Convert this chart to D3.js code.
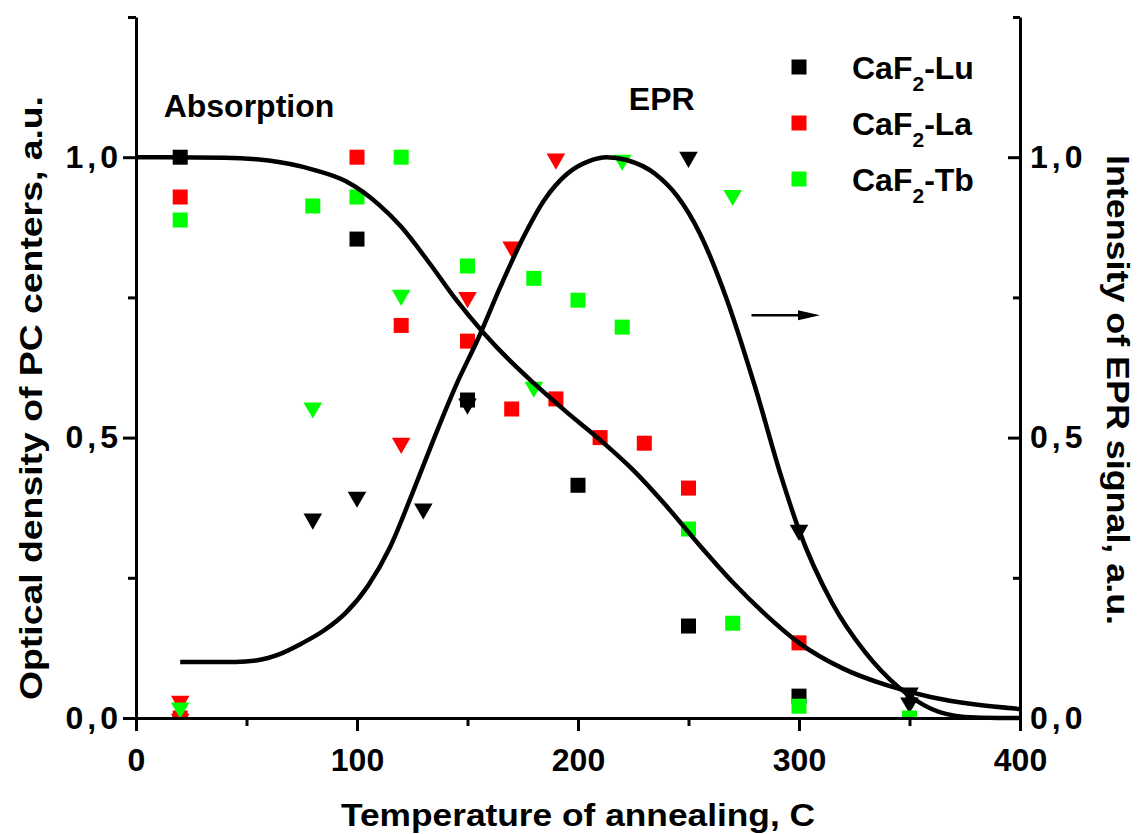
<!DOCTYPE html>
<html><head><meta charset="utf-8">
<script src="https://cdn.jsdelivr.net/npm/d3@7"></script>
<style>
html,body{margin:0;padding:0;background:#fff;}
text{font-family:"Liberation Sans",Arial,sans-serif;font-weight:bold;fill:#000;}
</style></head>
<body>
<svg id="chart" width="1140" height="834"></svg>
<script>
// ---------- data ----------
const xTicks = [0, 100, 200, 300, 400];
const xTickLabels = ["0", "100", "200", "300", "400"];
const xMinorTicks = [50, 150, 250, 350];
const yTicks = [0, 0.5, 1.0];
const yTickLabels = ["0,0", "0,5", "1,0"];
const yMinorTicks = [0.25, 0.75, 1.25];

const seriesNames = ["CaF2-Lu", "CaF2-La", "CaF2-Tb"];
const seriesColors = ["#000000", "#ff0000", "#00ff00"];

// Absorption (squares, left axis)
const absLu = [[20,1.0],[100,0.854],[150,0.567],[200,0.415],[250,0.164],[300,0.039]];
const absLa = [[20,0.929],[20,0.0],[100,1.0],[120,0.70],[150,0.672],[170,0.551],[190,0.569],[210,0.50],[230,0.49],[250,0.41],[300,0.134]];
const absTb = [[20,0.888],[80,0.913],[100,0.929],[120,1.0],[150,0.806],[180,0.784],[200,0.745],[220,0.697],[250,0.337],[270,0.169],[300,0.021],[350,0.0]];

// EPR (down triangles, right axis)
const eprLu = [[80,0.355],[100,0.394],[130,0.373],[150,0.56],[250,1.0],[300,0.335],[350,0.045],[350,0.027]];
const eprLa = [[20,0.03],[20,-0.002],[120,0.49],[150,0.75],[170,0.84],[190,0.997]];
const eprTb = [[20,0.018],[80,0.553],[120,0.754],[180,0.59],[220,0.995],[270,0.932]];

// fitted curves
const absCurve = [[0,1.0],[40,0.999],[60,0.994],[80,0.978],[95,0.957],[110,0.915],[120,0.876],[133,0.81],[145,0.745],[157,0.688],[170,0.634],[180,0.597],[195,0.545],[210,0.496],[225,0.442],[240,0.378],[255,0.308],[270,0.242],[285,0.184],[300,0.134],[320,0.088],[340,0.058],[360,0.037],[380,0.024],[400,0.016]];
const eprCurve = [[20,0.1],[45,0.1],[55,0.103],[65,0.114],[75,0.133],[85,0.156],[95,0.188],[105,0.236],[115,0.305],[125,0.4],[135,0.5],[145,0.595],[155,0.678],[165,0.77],[175,0.855],[185,0.925],[195,0.97],[205,0.993],[213,1.0],[222,0.995],[235,0.97],[245,0.93],[255,0.865],[267,0.75],[280,0.592],[292,0.43],[300,0.335],[315,0.205],[330,0.117],[345,0.055],[360,0.016],[375,0.002],[390,0.0],[400,0.0]];

// annotations (data units)
const labelAbsorption = {text:"Absorption", x:12.5, y:1.072};
const labelEPR = {text:"EPR", x:223, y:1.085};
const arrowEPR = {x1:278.5, x2:309.5, y:0.718};

// ---------- layout ----------
const svg = d3.select("#chart");
const x = d3.scaleLinear().domain([0,400]).range([136,1020]);
const y = d3.scaleLinear().domain([0,1.25]).range([718,17]);
const FS = 32;

svg.append("defs").append("clipPath").attr("id","plotclip")
  .append("rect").attr("x",x(0)).attr("y",y(1.25)).attr("width",x(400)-x(0)).attr("height",y(0)-y(1.25));

const markers = svg.append("g").attr("clip-path","url(#plotclip)");
const sq = 15;
const triSym = d3.symbol().type(d3.symbolTriangle).size(150);

const absSets = [absLu, absLa, absTb];
const eprSets = [eprLu, eprLa, eprTb];
for (let i = 0; i < 3; i++) {
  markers.append("g").selectAll("rect").data(absSets[i]).join("rect")
    .attr("x", d => x(d[0]) - sq/2).attr("y", d => y(d[1]) - sq/2)
    .attr("width", sq).attr("height", sq).attr("fill", seriesColors[i]);
  markers.append("g").selectAll("path").data(eprSets[i]).join("path")
    .attr("d", triSym)
    .attr("transform", d => `translate(${x(d[0])},${y(d[1])}) rotate(180)`)
    .attr("fill", seriesColors[i]);
}

// curves
const line = d3.line().x(d => x(d[0])).y(d => y(d[1])).curve(d3.curveMonotoneX);
svg.append("path").datum(absCurve).attr("d", line).attr("fill","none").attr("stroke","#000").attr("stroke-width",4.5);
svg.append("path").datum(eprCurve).attr("d", line).attr("fill","none").attr("stroke","#000").attr("stroke-width",4.5);

// axes
function styleAxis(g){
  g.selectAll("path.domain").attr("stroke","#000").attr("stroke-width",3);
  g.selectAll(".tick line").attr("stroke","#000").attr("stroke-width",3);
  g.selectAll("text").attr("font-size",FS).attr("font-family",'"Liberation Sans",Arial,sans-serif').attr("font-weight","bold").attr("fill","#000");
}
// bottom
const gx = svg.append("g").attr("transform",`translate(0,${y(0)})`)
  .call(d3.axisBottom(x).tickValues(xTicks).tickFormat((d,i)=>xTickLabels[i]).tickSize(13).tickSizeOuter(0).tickPadding(17));
styleAxis(gx);
const gxm = svg.append("g").attr("transform",`translate(0,${y(0)})`)
  .call(d3.axisBottom(x).tickValues(xMinorTicks).tickFormat("").tickSize(8).tickSizeOuter(0));
styleAxis(gxm); gxm.select("path.domain").remove();
// left
const gy = svg.append("g").attr("transform",`translate(${x(0)},0)`)
  .call(d3.axisLeft(y).tickValues(yTicks).tickFormat((d,i)=>yTickLabels[i]).tickSize(13).tickSizeOuter(0).tickPadding(5));
styleAxis(gy);
gy.selectAll(".tick text").attr("letter-spacing", 4).attr("dx", 4);
const gym = svg.append("g").attr("transform",`translate(${x(0)},0)`)
  .call(d3.axisLeft(y).tickValues(yMinorTicks).tickFormat("").tickSize(8).tickSizeOuter(0));
styleAxis(gym); gym.select("path.domain").remove();
// right
const gr = svg.append("g").attr("transform",`translate(${x(400)},0)`)
  .call(d3.axisRight(y).tickValues(yTicks).tickFormat((d,i)=>yTickLabels[i]).tickSize(-12).tickSizeOuter(0).tickPadding(10));
styleAxis(gr);
gr.selectAll(".tick text").attr("letter-spacing", 4);
const grm = svg.append("g").attr("transform",`translate(${x(400)},0)`)
  .call(d3.axisRight(y).tickValues(yMinorTicks).tickFormat("").tickSize(-7).tickSizeOuter(0));
styleAxis(grm); grm.select("path.domain").remove();

// axis titles
svg.append("text").attr("x",(x(0)+x(400))/2).attr("y",826).attr("text-anchor","middle")
  .attr("font-size",FS).attr("textLength",474).attr("lengthAdjust","spacingAndGlyphs")
  .text("Temperature of annealing, C");
svg.append("text").attr("transform","translate(42,398) rotate(-90)").attr("text-anchor","middle")
  .attr("font-size",FS).attr("textLength",604).attr("lengthAdjust","spacingAndGlyphs")
  .text("Optical density of PC centers, a.u.");
svg.append("text").attr("transform","translate(1107,390) rotate(90)").attr("text-anchor","middle")
  .attr("font-size",FS).attr("textLength",470).attr("lengthAdjust","spacingAndGlyphs")
  .text("Intensity of EPR signal, a.u.");

// annotations
svg.append("text").attr("x",x(labelAbsorption.x)).attr("y",y(labelAbsorption.y)).attr("font-size",FS).text(labelAbsorption.text);
svg.append("text").attr("x",x(labelEPR.x)).attr("y",y(labelEPR.y)).attr("font-size",FS).text(labelEPR.text);
const ax2 = x(arrowEPR.x2), ay = y(arrowEPR.y);
svg.append("line").attr("x1",x(arrowEPR.x1)).attr("x2",ax2-14).attr("y1",ay).attr("y2",ay).attr("stroke","#000").attr("stroke-width",2.5);
svg.append("path").attr("d",`M${ax2},${ay} L${ax2-22},${ay-5} L${ax2-22},${ay+5} Z`).attr("fill","#000");

// legend
const legendY = [67, 123, 179];
const legendBaseFor = ["Lu","La","Tb"];
for (let i = 0; i < 3; i++) {
  svg.append("rect").attr("x",799-sq/2).attr("y",legendY[i]-sq/2).attr("width",sq).attr("height",sq).attr("fill",seriesColors[i]);
  const t = svg.append("text").attr("x",852).attr("y",legendY[i]+12).attr("font-size",FS);
  t.append("tspan").text("CaF");
  t.append("tspan").attr("font-size",21).attr("dy",12).text("2");
  t.append("tspan").attr("dy",-12).text("-" + legendBaseFor[i]);
}
</script>
</body></html>
